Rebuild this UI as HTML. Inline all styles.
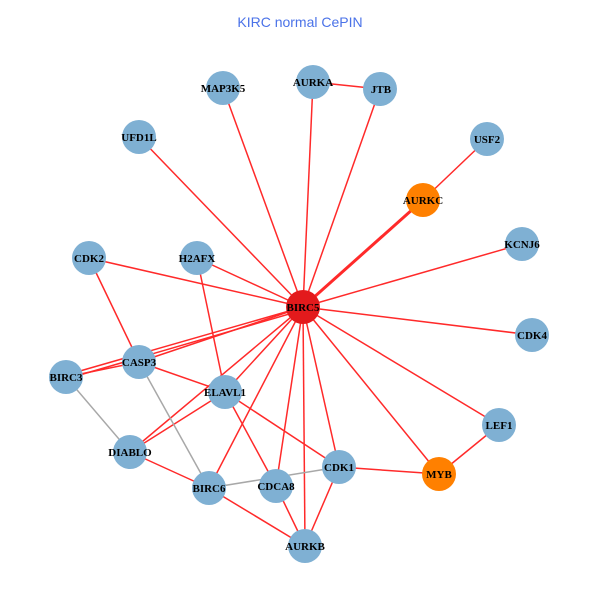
<!DOCTYPE html>
<html><head><meta charset="utf-8"><style>body{margin:0;background:#fff}svg{display:block}</style></head>
<body>
<svg width="600" height="600" xmlns="http://www.w3.org/2000/svg">
<rect width="600" height="600" fill="#fff"/>
<text x="300" y="27" text-anchor="middle" font-family="Liberation Sans, sans-serif" font-size="14" fill="#4a72e8">KIRC normal CePIN</text>
<g stroke="#ff2a2a" stroke-width="1.5">
<line x1="303" y1="307" x2="223" y2="88"/>
<line x1="303" y1="307" x2="313" y2="82"/>
<line x1="303" y1="307" x2="380" y2="89"/>
<line x1="313" y1="82" x2="380" y2="89"/>
<line x1="303" y1="307" x2="423" y2="200" stroke-width="3"/>
<line x1="423" y1="200" x2="487" y2="139"/>
<line x1="303" y1="307" x2="522" y2="244"/>
<line x1="303" y1="307" x2="139" y2="137"/>
<line x1="303" y1="307" x2="89" y2="258"/>
<line x1="303" y1="307" x2="197" y2="258"/>
<line x1="303" y1="307" x2="532" y2="335"/>
<line x1="303" y1="307" x2="499" y2="425"/>
<line x1="499" y1="425" x2="439" y2="474"/>
<line x1="303" y1="307" x2="439" y2="474"/>
<line x1="303" y1="307" x2="339" y2="467"/>
<line x1="303" y1="307" x2="276" y2="486"/>
<line x1="303" y1="307" x2="305" y2="546"/>
<line x1="303" y1="307" x2="209" y2="488"/>
<line x1="303" y1="307" x2="225" y2="392"/>
<line x1="303" y1="307" x2="130" y2="452"/>
<line x1="303" y1="307" x2="139" y2="362"/>
<line x1="303" y1="307" x2="66" y2="375"/>
<line x1="303" y1="310" x2="66" y2="379"/>
<line x1="197" y1="258" x2="225" y2="392"/>
<line x1="89" y1="258" x2="139" y2="362"/>
<line x1="139" y1="362" x2="66" y2="377"/>
<line x1="139" y1="362" x2="225" y2="392"/>
<line x1="225" y1="392" x2="130" y2="452"/>
<line x1="225" y1="392" x2="339" y2="467"/>
<line x1="225" y1="392" x2="276" y2="486"/>
<line x1="130" y1="452" x2="209" y2="488"/>
<line x1="209" y1="488" x2="305" y2="546"/>
<line x1="276" y1="486" x2="305" y2="546"/>
<line x1="339" y1="467" x2="305" y2="546"/>
<line x1="339" y1="467" x2="439" y2="474"/>
</g>
<g stroke="#a8a8a8" stroke-width="1.5">
<line x1="66" y1="377" x2="130" y2="452"/>
<line x1="139" y1="362" x2="209" y2="488"/>
<line x1="209" y1="488" x2="339" y2="467"/>
</g>
<g fill="#7fb0d3">
<circle cx="223" cy="88" r="17"/><circle cx="313" cy="82" r="17"/><circle cx="380" cy="89" r="17"/>
<circle cx="139" cy="137" r="17"/><circle cx="487" cy="139" r="17"/><circle cx="522" cy="244" r="17"/>
<circle cx="89" cy="258" r="17"/><circle cx="197" cy="258" r="17"/><circle cx="532" cy="335" r="17"/>
<circle cx="139" cy="362" r="17"/><circle cx="66" cy="377" r="17"/><circle cx="225" cy="392" r="17"/>
<circle cx="499" cy="425" r="17"/><circle cx="130" cy="452" r="17"/><circle cx="339" cy="467" r="17"/>
<circle cx="276" cy="486" r="17"/><circle cx="209" cy="488" r="17"/><circle cx="305" cy="546" r="17"/>
</g>
<circle cx="423" cy="200" r="17" fill="#ff8000"/>
<circle cx="439" cy="474" r="17" fill="#ff8000"/>
<circle cx="303" cy="307" r="17" fill="#e31a1c"/>
<g font-family="Liberation Serif, serif" font-weight="bold" font-size="11" text-anchor="middle" fill="#000">
<text x="223" y="92">MAP3K5</text><text x="313" y="86">AURKA</text><text x="381" y="93">JTB</text>
<text x="139" y="141">UFD1L</text><text x="487" y="143">USF2</text><text x="423" y="204">AURKC</text>
<text x="522" y="248">KCNJ6</text><text x="89" y="262">CDK2</text><text x="197" y="262">H2AFX</text>
<text x="303" y="311">BIRC5</text><text x="532" y="339">CDK4</text><text x="139" y="366">CASP3</text>
<text x="66" y="381">BIRC3</text><text x="225" y="396">ELAVL1</text><text x="499" y="429">LEF1</text>
<text x="130" y="456">DIABLO</text><text x="339" y="471">CDK1</text><text x="439" y="478">MYB</text>
<text x="276" y="490">CDCA8</text><text x="209" y="492">BIRC6</text><text x="305" y="550">AURKB</text>
</g>
</svg>
</body></html>
